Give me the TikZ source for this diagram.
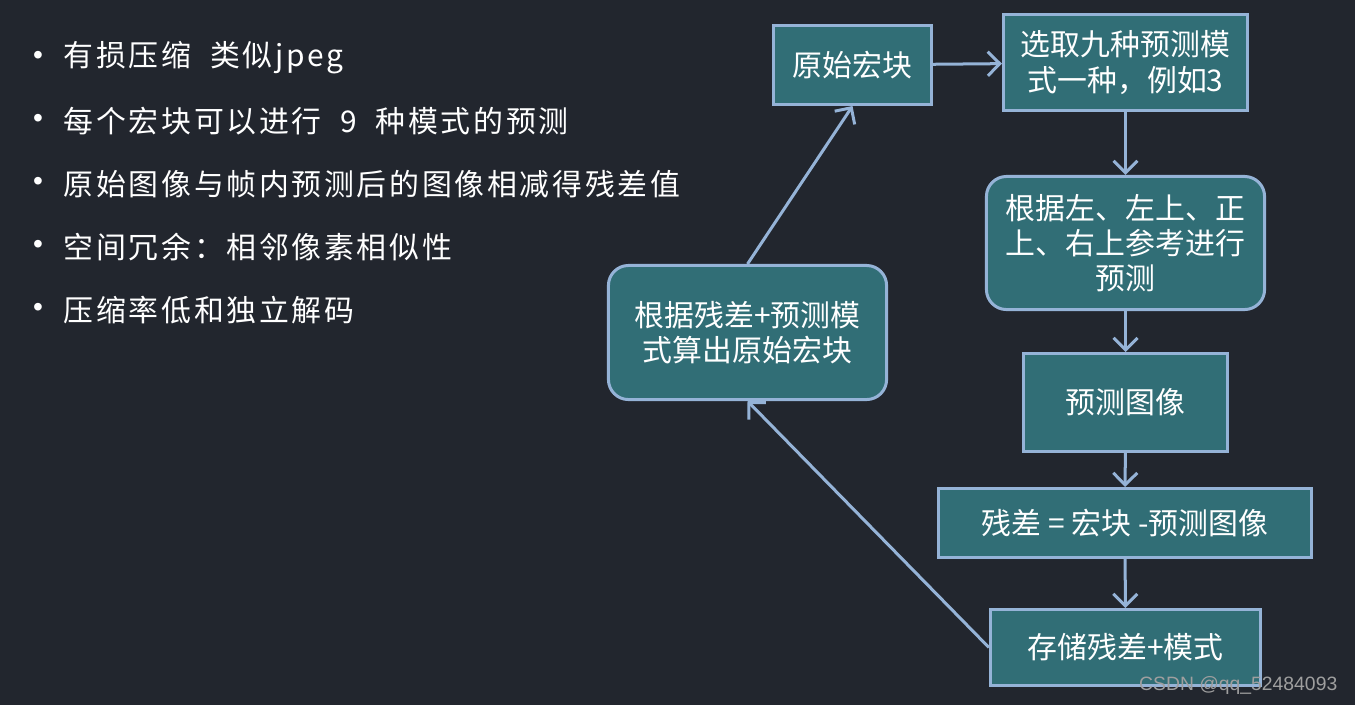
\documentclass[tikz,border=0pt]{standalone}
\usepackage{fontspec}
\setmainfont{Noto Sans CJK SC}
\newfontfamily\listfont[LetterSpace=9,WordSpace=2]{Noto Sans CJK SC}
\newfontfamily\markfont{Liberation Sans}
\usetikzlibrary{arrows.meta}
\definecolor{bgdark}{HTML}{22262E}
\definecolor{boxfill}{HTML}{316E76}
\definecolor{boxline}{HTML}{95B3D7}

\tikzset{
  box/.style={draw=boxline, fill=boxfill, line width=0.03cm, text=white, align=center,
    inner sep=0pt, font=\fontsize{8.5pt}{10pt}\selectfont},
  roundbox/.style={box, rounded corners=0.2cm},
  flow/.style={draw=boxline, line width=0.03cm, -{Straight Barb[length=1.2mm,width=2.4mm]}},
  item/.style={anchor=west, text=white, inner sep=0pt, font=\listfont\fontsize{8.5pt}{10pt}\selectfont},
  dot/.style={text=white, inner sep=0pt, font=\markfont\fontsize{8pt}{10pt}\selectfont},
}

\begin{document}
\begin{tikzpicture}[x=0.01cm, y=-0.01cm]
    \fill[bgdark] (0,0) rectangle (1355,705);
    \useasboundingbox (0,0) rectangle (1355,705);

    % list on the left
    \foreach \t [count=\i] in {有损压缩 类似jpeg, 每个宏块可以进行 9 种模式的预测,
        原始图像与帧内预测后的图像相减得残差值, 空间冗余：相邻像素相似性, 压缩率低和独立解码}
    {
        \node[dot] (bul\i) at (38, {58+63*(\i-1)}) {•};
        \node[item] (txt\i) at (63, {58+63*(\i-1)}) {\t};
    }

    % flow boxes
    \node[box, minimum width=1.58cm, minimum height=0.79cm] (orig) at (852.5,65) {原始宏块};
    \node[box, minimum width=2.44cm, minimum height=0.96cm] (select) at (1125.5,62.5) {选取九种预测模\\式一种，例如3};
    \node[roundbox, minimum width=2.78cm, minimum height=1.33cm] (predict) at (1125.5,243) {根据左、左上、正\\上、右上参考进行\\预测};
    \node[box, minimum width=2.04cm, minimum height=0.98cm] (pimg) at (1125.5,402.5) {预测图像};
    \node[box, minimum width=3.73cm, minimum height=0.69cm] (resid) at (1125,523) {残差 = 宏块 -预测图像};
    \node[box, minimum width=2.70cm, minimum height=0.76cm] (store) at (1125.5,647.5) {存储残差+模式};
    \node[roundbox, minimum width=2.78cm, minimum height=1.34cm] (recon) at (747.5,332.5) {根据残差+预测模\\式算出原始宏块};

    % connectors
    \draw[flow] (orig) -- (select);
    \draw[flow] (select) -- (predict);
    \draw[flow] (predict) -- (pimg);
    \draw[flow] (pimg) -- (resid);
    \draw[flow] (resid) -- (store);
    \draw[flow] (store.west) -- (recon.south);
    \draw[flow] (recon.north) -- (orig.south);

    \node[anchor=east, inner sep=0pt, text=gray!75, font=\markfont\fontsize{5.5pt}{6pt}\selectfont] (mark) at (1338,685) {CSDN @qq\_52484093};
\end{tikzpicture}
\end{document}
